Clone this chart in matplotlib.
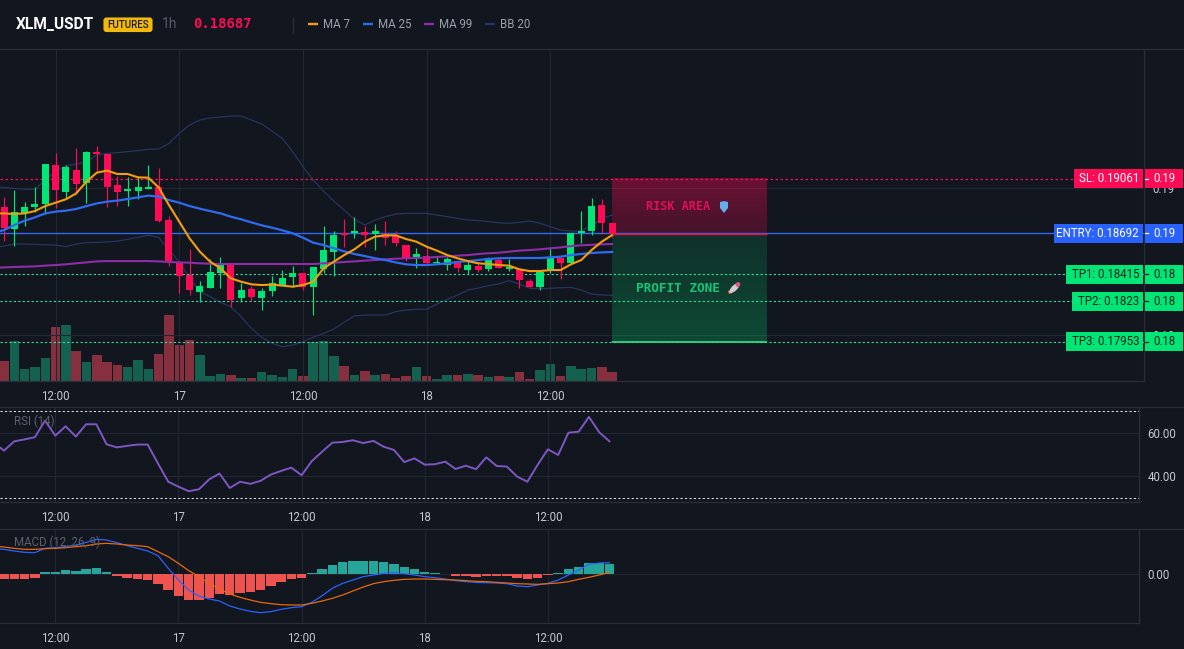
import numpy as np
import matplotlib
matplotlib.use("Agg")
import matplotlib.pyplot as plt
from matplotlib.patches import FancyBboxPatch, Rectangle, Polygon, Ellipse
from matplotlib.ticker import FixedLocator, FixedFormatter

# Hourly candles, prices in units of 0.00001 USDT
open_px = [18868,18723,18827,18868,18891,19156,18970,19122,19031,19244,19231,19020,18979,18979,18995,19009,18782,18492,18408,18295,
           18322,18424,18479,18254,18313,18254,18300,18340,18397,18420,18324,18449,18567,18692,18692,18703,18687,18687,18680,18610,
           18528,18540,18488,18476,18503,18442,18469,18449,18510,18451,18449,18367,18327,18442,18522,18492,18692,18710,18884,18760]
high_px = [18941,18986,18907,19004,19163,19235,19156,19269,19251,19285,19231,19084,19072,19084,19156,19136,18809,18499,18583,18367,
           18515,18528,18479,18356,18333,18318,18404,18442,18469,18420,18460,18741,18707,18789,18800,18744,18755,18775,18707,18610,
           18594,18596,18533,18533,18503,18503,18492,18533,18522,18515,18449,18379,18442,18590,18522,18692,18843,18929,18923,18760]
low_px = [18642,18608,18741,18839,18823,18861,18929,18957,18900,19111,18873,18877,18877,18923,18995,18771,18472,18284,18272,18227,
          18322,18318,18193,18227,18234,18170,18268,18340,18329,18306,18136,18420,18404,18601,18662,18601,18578,18612,18608,18506,
          18458,18483,18488,18442,18426,18413,18426,18438,18454,18438,18322,18324,18306,18420,18381,18488,18628,18680,18687,18669]
close_px = [18726,18839,18868,18891,19163,18986,19145,19027,19244,19231,19009,18973,18993,19004,19007,18775,18503,18404,18306,18333,
            18426,18476,18238,18306,18259,18300,18352,18388,18422,18329,18460,18578,18680,18680,18707,18680,18707,18658,18624,18522,
            18551,18488,18497,18515,18456,18476,18442,18522,18456,18460,18374,18329,18426,18522,18488,18692,18707,18877,18764,18687]
volume = [60,120,36,42,69,162,168,90,57,78,57,48,42,63,36,82,198,108,123,78,15,21,18,9,9,27,18,12,36,15,117,
          119,75,45,18,30,18,21,9,15,42,15,6,18,18,21,18,12,15,12,27,6,33,51,15,45,36,39,42,27]

# Indicator series carry one extra hour ahead of the first visible candle
ma7 = [18827,18827,18823,18827,18843,18877,18900,18923,18963,19043,19104,19118,19095,19095,19072,19070,19004,18884,18771,18658,18567,
       18499,18454,18386,18363,18345,18340,18343,18336,18329,18340,18363,18454,18499,18544,18583,18635,18669,18678,18678,18653,
       18635,18601,18574,18544,18522,18503,18488,18483,18476,18472,18447,18435,18435,18442,18442,18481,18510,18578,18635,18680]
ma25 = [18696,18714,18748,18778,18800,18827,18839,18846,18857,18877,18895,18907,18914,18925,18936,18948,18941,18918,18900,18877,18859,
        18843,18827,18805,18787,18766,18746,18730,18712,18692,18662,18628,18612,18590,18569,18551,18537,18522,18510,18494,18481,
        18476,18476,18481,18488,18497,18503,18510,18517,18522,18524,18524,18524,18524,18528,18533,18544,18551,18558,18562,18565]
ma99 = [18458,18460,18463,18465,18467,18472,18476,18481,18488,18494,18501,18503,18503,18503,18503,18503,18501,18497,18494,18492,18488,
        18485,18483,18483,18483,18483,18483,18483,18483,18483,18483,18483,18488,18492,18497,18501,18506,18510,18515,18519,18522,
        18524,18526,18531,18535,18540,18544,18551,18556,18560,18567,18574,18578,18583,18590,18596,18605,18610,18614,18617,18619]
bb_upper = [19009,19004,18997,18991,18991,19054,19111,19152,19161,19179,19224,19235,19240,19247,19254,19263,19265,19303,19371,19428,19462,
            19476,19482,19489,19489,19462,19435,19387,19337,19247,19145,19054,18979,18911,18850,18787,18748,18782,18805,18823,18827,
            18827,18827,18816,18805,18793,18782,18778,18771,18764,18760,18766,18775,18760,18737,18714,18707,18707,18748,18793,18816]
bb_lower = [18596,18605,18619,18619,18617,18614,18612,18601,18619,18628,18630,18633,18639,18651,18664,18678,18664,18578,18499,18386,18295,
            18261,18222,18193,18125,18046,17985,17944,17921,17932,17955,17985,18012,18041,18087,18130,18136,18136,18136,18159,18170,
            18175,18175,18211,18243,18272,18306,18320,18336,18347,18370,18347,18318,18315,18318,18322,18324,18306,18279,18272,18270]

rsi = [55.5,51.8,56.1,57.0,58.0,65.7,58.7,63.1,58.3,64.0,64.0,54.7,53.3,54.0,54.6,54.6,45.9,37.4,35.1,33.0,33.9,
       38.5,41.2,34.5,37.4,36.4,37.8,40.7,42.4,43.9,40.4,47.0,51.3,55.5,55.8,56.6,55.3,56.3,53.6,52.1,46.5,
       48.2,45.3,45.5,46.7,43.3,44.8,43.2,48.7,44.7,44.4,39.8,37.4,45.2,52.4,49.8,60.1,60.6,67.4,60.3,56.1]

# MACD values in units of 0.00001
macd_hist = [-14,-14,-14,-10,8,8,13,10,16,20,8,-6,-11,-14,-17,-29,-47,-65,-77,-77,-70,-59,-62,-56,-54,-46,-36,-23,-14,-11,
             4,16,28,37,40,40,40,37,31,23,16,7,4,1,-5,-6,-8,-5,-5,-5,-11,-14,-11,-2,3,16,22,34,34,31]
macd_line = [77,75,70,66,65,78,80,83,88,96,105,103,95,86,78,70,56,18,-17,-47,-65,-74,-80,-95,-104,-111,-115,-112,-105,-100,-97,
             -84,-64,-42,-27,-17,-7,-2,3,5,2,-2,-7,-10,-14,-19,-22,-24,-25,-26,-28,-35,-37,-32,-27,-17,-2,13,30,34,35]
macd_signal = [84,82,78,75,75,77,78,80,83,86,91,93,91,88,86,83,68,53,33,11,-7,-27,-44,-59,-69,-77,-84,-88,-91,-92,-92,
               -87,-80,-72,-62,-50,-38,-28,-22,-18,-15,-14,-14,-15,-16,-17,-19,-21,-22,-24,-26,-28,-29,-30,-28,-26,-22,-15,-9,-2,6]

time_tick_pos = [5, 17, 29, 41, 53]
time_tick_labels = ["12:00", "17", "12:00", "18", "12:00"]

sl_price = 0.19061
entry_price = 0.18692
last_price = 0.18687
tp_levels = [("TP1", "0.18415", 0.18415), ("TP2", "0.1823", 0.1823), ("TP3", "0.17953", 0.17953)]

BG = "#12161f"
GRID = "#232732"
BORDER = "#2a2e39"
TICK = "#c4c8d0"
UP = "#00e676"
DOWN = "#ff0a54"
plt.rcParams["font.family"] = ["Roboto", "DejaVu Sans"]
LABEL_SIZE = 8.3

W, H = 1184, 649
fig = plt.figure(figsize=(W / 100, H / 100), dpi=100, facecolor=BG)


def pane(left, top, right, bottom):
    return [left / W, 1 - bottom / H, (right - left) / W, (bottom - top) / H]


XLIM = (-0.39, 110.6)
x = np.arange(len(open_px))
line_x = np.arange(-1, len(open_px))
o, h, l, c = [np.array(a) / 1e5 for a in (open_px, high_px, low_px, close_px)]
rising = c >= o

# Volume sits behind the price pane on its own scale
ax_vol = fig.add_axes(pane(0, 49, 1144, 381), facecolor=BG, zorder=1)
ax_vol.bar(x, volume, width=0.92, color=np.where(rising, "#14614f", "#86303f"))
ax_vol.set_xlim(*XLIM)
ax_vol.set_ylim(0, 996)
ax_vol.axis("off")

ax = fig.add_axes(pane(0, 49, 1144, 381), facecolor="none", zorder=2)
ax.set_xlim(*XLIM)
ax.set_ylim(0.176878, 0.199447)
ax.grid(True, color=GRID, lw=0.8, zorder=0)
ax.set_axisbelow(True)

# Bollinger bands
ax.plot(line_x, np.array(bb_upper) / 1e5, color="#27345f", lw=0.9, zorder=2)
ax.plot(line_x, np.array(bb_lower) / 1e5, color="#27345f", lw=0.9, zorder=2)

# Candles
colors = np.where(rising, UP, DOWN)
ax.vlines(x, l, h, colors=colors, lw=0.85, zorder=3)
ax.bar(x, np.maximum(np.abs(c - o), 2e-5), bottom=np.minimum(o, c), width=0.68, color=colors, zorder=3)

# Moving averages
ax.plot(line_x, np.array(ma99) / 1e5, color="#8e2da8", lw=1.5, zorder=4)
ax.plot(line_x, np.array(ma25) / 1e5, color="#2f6bf0", lw=1.6, zorder=4)
ax.plot(line_x, np.array(ma7) / 1e5, color="#f59e0b", lw=1.5, zorder=5)

# Signal levels
ax.axhline(sl_price, color=DOWN, lw=0.9, ls=(0, (2, 2)), zorder=2)
ax.axhline(entry_price, color="#2f6bf0", lw=1.0, zorder=2)
for _, _, level in tp_levels:
    ax.axhline(level, color="#3ddc97", lw=0.8, ls=(0, (2, 2)), zorder=2)

# Risk and profit projections with vertical fades
ZONE_START, ZONE_END = 59, 74


def fade(rgb, a_top, a_bottom):
    rgba = np.zeros((64, 1, 4))
    rgba[..., :3] = rgb
    rgba[:, 0, 3] = np.linspace(a_top, a_bottom, 64)
    return rgba


ax.imshow(fade((1.0, 0.04, 0.33), 0.38, 0.21), extent=[ZONE_START, ZONE_END, last_price, sl_price],
          aspect="auto", zorder=6, interpolation="bilinear")
ax.imshow(fade((0.0, 0.90, 0.46), 0.13, 0.25), extent=[ZONE_START, ZONE_END, tp_levels[-1][2], last_price],
          aspect="auto", zorder=6, interpolation="bilinear")
ax.plot([ZONE_START, ZONE_END], [last_price, last_price], color="#d8144f", lw=1.0, zorder=7, solid_capstyle="butt")
ax.plot([ZONE_START, ZONE_END], [tp_levels[-1][2]] * 2, color="#2fd67f", lw=1.3, zorder=7, solid_capstyle="butt")
ax.set_xlim(*XLIM)
ax.set_ylim(0.176878, 0.199447)


def style_axes(a):
    a.set_facecolor("none" if a is ax else BG)
    for side in ("top", "left"):
        a.spines[side].set_visible(False)
    for side in ("right", "bottom"):
        a.spines[side].set_color(BORDER)
        a.spines[side].set_linewidth(0.9)
    a.xaxis.set_major_locator(FixedLocator(time_tick_pos))
    a.xaxis.set_major_formatter(FixedFormatter(time_tick_labels))
    a.yaxis.tick_right()
    a.tick_params(axis="x", length=0, pad=6.2, labelsize=LABEL_SIZE, labelcolor=TICK)
    a.tick_params(axis="y", length=0, labelsize=LABEL_SIZE, labelcolor=TICK, pad=6)


style_axes(ax)
ax.yaxis.set_major_locator(FixedLocator([0.18, 0.19]))
ax.yaxis.set_major_formatter(FixedFormatter(["0.18", "0.19"]))

# RSI pane
ax_rsi = fig.add_axes(pane(0, 407, 1139, 502), zorder=2)
ax_rsi.plot(line_x, rsi, color="#7e57c2", lw=1.4)
ax_rsi.axhline(70, color="#cfd2d8", lw=0.8, ls=(0, (2, 2)))
ax_rsi.axhline(30, color="#cfd2d8", lw=0.8, ls=(0, (2, 2)))
ax_rsi.set_xlim(*XLIM)
ax_rsi.set_ylim(28, 72)
ax_rsi.grid(True, color=GRID, lw=0.8)
ax_rsi.set_axisbelow(True)
style_axes(ax_rsi)
ax_rsi.yaxis.set_major_locator(FixedLocator([40, 60]))
ax_rsi.yaxis.set_major_formatter(FixedFormatter(["40.00", "60.00"]))

# MACD pane
ax_macd = fig.add_axes(pane(0, 529, 1139, 623), zorder=2)
hist = np.array(macd_hist) / 1e5
ax_macd.bar(x, hist, width=0.92, color=np.where(hist >= 0, "#26a69a", "#ef5350"))
ax_macd.plot(line_x, np.array(macd_line) / 1e5, color="#2962ff", lw=0.9)
ax_macd.plot(line_x, np.array(macd_signal) / 1e5, color="#e8690b", lw=0.9)
ax_macd.set_xlim(*XLIM)
ax_macd.set_ylim(-0.00146, 0.00136)
ax_macd.grid(True, color=GRID, lw=0.8)
ax_macd.set_axisbelow(True)
style_axes(ax_macd)
ax_macd.yaxis.set_major_locator(FixedLocator([0]))
ax_macd.yaxis.set_major_formatter(FixedFormatter(["0.00"]))

# Overlay in screen-like coordinates for the header and price tags
ov = fig.add_axes([0, 0, 1, 1], facecolor="none", zorder=10)
ov.set_xlim(0, W)
ov.set_ylim(H, 0)
ov.axis("off")

for yy in (48.5, 406.5, 528.5):
    ov.plot([0, W], [yy, yy], color=BORDER, lw=0.9)

ov.text(16, 24.5, "XLM_USDT", color="white", fontsize=11.2, fontweight="bold", va="center")
ov.add_patch(FancyBboxPatch((104, 18), 48, 13.5, boxstyle="round,pad=0,rounding_size=2.5", fc="#f0b90b", ec="#f0b90b", lw=0.8))
ov.text(128, 24.8, "FUTURES", color="#1a1a1a", fontsize=7.0, ha="center", va="center", fontweight="medium")
ov.text(162, 24.5, "1h", color="#565c68", fontsize=10, va="center")
ov.text(193, 24.5, "0.18687", color=DOWN, fontsize=10, fontweight="bold", family="DejaVu Sans Mono", va="center")
ov.plot([293, 293], [17, 33], color=BORDER, lw=0.9)

legend_items = [("MA 7", "#f59e0b", 308), ("MA 25", "#2f6bf0", 363), ("MA 99", "#8e2da8", 424), ("BB 20", "#27345f", 485)]
for name, col, px in legend_items:
    ov.plot([px, px + 10], [24, 24], color=col, lw=1.7, solid_capstyle="butt")
    ov.text(px + 15, 24, name, color="#9aa0ab", fontsize=LABEL_SIZE, va="center")


def price_y(price):
    return H - ax.transData.transform((0, price))[1]


def price_tag(caption, price, short, fill, ink, left):
    yy = price_y(price)
    ov.add_patch(Rectangle((left, yy - 9.5), 1143 - left, 19, fc=fill, ec="none"))
    ov.text(1139, yy, caption, color=ink, fontsize=LABEL_SIZE, ha="right", va="center")
    ov.add_patch(Rectangle((1144.5, yy - 9.5), 38.5, 19, fc=fill, ec="none"))
    ov.plot([1145, 1148], [yy, yy], color=ink, lw=0.9)
    ov.text(1153, yy, short, color=ink, fontsize=LABEL_SIZE, va="center")


price_tag("SL: 0.19061", sl_price, "0.19", DOWN, "white", 1074)
price_tag("ENTRY: 0.18692", entry_price, "0.19", "#2962ff", "white", 1054)
tag_lefts = [1066, 1072, 1066]
for (name, text, level), left in zip(tp_levels, tag_lefts):
    price_tag(f"{name}: {text}", level, "0.18", UP, "#10231c", left)

ov.text(646, 207, "RISK AREA", color="#e01058", fontsize=8.6, fontweight="bold", family="DejaVu Sans Mono", va="center")
ov.add_patch(Polygon([(720, 202), (724, 201), (728, 202), (728, 208), (724, 213), (720, 208)], fc="#63aee8", ec="none"))
ov.text(636, 289, "PROFIT ZONE", color="#12c777", fontsize=9.1, fontweight="bold", family="DejaVu Sans Mono", va="center")
ov.add_patch(Polygon([(729, 294), (728, 291), (731, 290), (732, 293)], fc="#e8883c", ec="none"))
ov.add_patch(Ellipse((734.5, 288), 13, 5.5, angle=-45, fc="#d9c9d4", ec="none"))
ov.add_patch(Ellipse((738, 284.5), 5, 4.5, angle=-45, fc="#e0567f", ec="none"))

ov.text(14, 421.5, "RSI (14)", color="#5a606c", fontsize=LABEL_SIZE, va="center")
ov.text(14, 542, "MACD (12, 26, 9)", color="#5a606c", fontsize=LABEL_SIZE, va="center")

fig.savefig("out.png", dpi=100, facecolor=BG)
